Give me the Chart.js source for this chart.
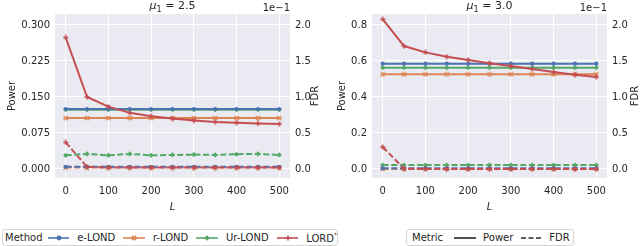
<!DOCTYPE html>
<html>
<head>
<meta charset="utf-8">
<script src="https://cdn.jsdelivr.net/npm/chart.js@4.4.1/dist/chart.umd.min.js"></script>
<style>
body{margin:0;background:#fff;width:640px;height:246px;position:relative;overflow:hidden;font-family:'DejaVu Sans';font-size:10px;color:#262626}
canvas{position:absolute;top:0}
#cA{left:0}
#cB{left:320px}
.lg{position:absolute;top:229px;border:1px solid #d4d4d4;border-radius:3px;background:#fff;display:flex;align-items:center;white-space:nowrap;box-sizing:border-box;height:17px}
.lg svg{display:block}
sup{font-size:6px;vertical-align:5px}
</style>
</head>
<body>
<canvas id="cA" width="320" height="222"></canvas>
<canvas id="cB" width="320" height="222"></canvas>

<div class="lg" style="left:2px;width:336px;padding-left:2px">
  <span>Method</span>
  <svg width="22" height="10" style="margin-left:5px"><line x1="0" y1="5" x2="22" y2="5" stroke="#4C72B0" stroke-width="1.6"/><circle cx="11" cy="5" r="2.4" fill="#4C72B0"/></svg>
  <span style="margin-left:8px">e-LOND</span>
  <svg width="22" height="10" style="margin-left:8px"><line x1="0" y1="5" x2="22" y2="5" stroke="#DD8452" stroke-width="1.6"/><path d="M9 3 L13 7 M13 3 L9 7" stroke="#DD8452" stroke-width="1.8"/></svg>
  <span style="margin-left:8px">r-LOND</span>
  <svg width="22" height="10" style="margin-left:8px"><line x1="0" y1="5" x2="22" y2="5" stroke="#55A868" stroke-width="1.6"/><path d="M11 2.2 L13.8 5 L11 7.8 L8.2 5 Z" fill="#55A868"/></svg>
  <span style="margin-left:8px">Ur-LOND</span>
  <svg width="22" height="10" style="margin-left:8px"><line x1="0" y1="5" x2="22" y2="5" stroke="#C44E52" stroke-width="1.6"/><path d="M11 2.5 L11 7.5 M8.5 5 L13.5 5" stroke="#C44E52" stroke-width="1.6"/></svg>
  <span style="margin-left:8px">LORD<sup>*</sup></span>
</div>

<div class="lg" style="left:406px;width:168px;padding-left:5px">
  <span>Metric</span>
  <svg width="22" height="10" style="margin-left:11px"><line x1="0" y1="5" x2="22" y2="5" stroke="#262626" stroke-width="1.6"/></svg>
  <span style="margin-left:7px">Power</span>
  <svg width="20" height="10" style="margin-left:8px"><line x1="0" y1="5" x2="20" y2="5" stroke="#262626" stroke-width="1.6" stroke-dasharray="5,2.5"/></svg>
  <span style="margin-left:8px">FDR</span>
</div>

<script>
const L = [0, 50, 100, 150, 200, 250, 300, 350, 400, 450, 500];
const methods = ['e-LOND', 'r-LOND', 'Ur-LOND', 'LORD*'];

// mu1 = 2.5 : power
const powA_eLOND  = [0.125, 0.125, 0.125, 0.125, 0.125, 0.125, 0.125, 0.125, 0.125, 0.125, 0.125];
const powA_rLOND  = [0.106, 0.106, 0.106, 0.106, 0.106, 0.106, 0.106, 0.106, 0.106, 0.106, 0.106];
const powA_UrLOND = [0.1235, 0.1235, 0.1235, 0.1235, 0.1235, 0.1235, 0.1235, 0.1235, 0.1235, 0.1235, 0.1235];
const powA_LORD   = [0.274, 0.150, 0.130, 0.117, 0.110, 0.105, 0.101, 0.098, 0.0965, 0.095, 0.094];
// mu1 = 2.5 : FDR (in units of 1e-1, as on the right axis)
const fdrA_eLOND  = [0.03, 0.03, 0.03, 0.03, 0.03, 0.03, 0.03, 0.03, 0.03, 0.03, 0.03];
const fdrA_rLOND  = [0.02, 0.02, 0.02, 0.02, 0.02, 0.02, 0.02, 0.02, 0.02, 0.02, 0.02];
const fdrA_UrLOND = [0.19, 0.21, 0.19, 0.21, 0.19, 0.195, 0.2, 0.195, 0.205, 0.21, 0.195];
const fdrA_LORD   = [0.37, 0.03, 0.02, 0.02, 0.02, 0.02, 0.02, 0.02, 0.02, 0.02, 0.02];

// mu1 = 3.0 : power
const powB_eLOND  = [0.585, 0.585, 0.585, 0.585, 0.585, 0.585, 0.585, 0.585, 0.585, 0.585, 0.585];
const powB_rLOND  = [0.526, 0.526, 0.526, 0.526, 0.526, 0.526, 0.526, 0.526, 0.526, 0.526, 0.526];
const powB_UrLOND = [0.563, 0.563, 0.563, 0.563, 0.563, 0.563, 0.563, 0.563, 0.563, 0.563, 0.563];
const powB_LORD   = [0.832, 0.683, 0.648, 0.624, 0.606, 0.587, 0.572, 0.556, 0.539, 0.524, 0.511];
// mu1 = 3.0 : FDR (1e-1)
const fdrB_eLOND  = [0.01, 0.01, 0.01, 0.01, 0.01, 0.01, 0.01, 0.01, 0.01, 0.01, 0.01];
const fdrB_rLOND  = [0.0, 0.0, 0.0, 0.0, 0.0, 0.0, 0.0, 0.0, 0.0, 0.0, 0.0];
const fdrB_UrLOND = [0.055, 0.055, 0.055, 0.055, 0.055, 0.055, 0.055, 0.055, 0.055, 0.055, 0.055];
const fdrB_LORD   = [0.305, 0.005, 0.0, 0.0, 0.0, 0.0, 0.0, 0.0, 0.0, 0.0, 0.0];

// tick labels
const xTicks = [0, 100, 200, 300, 400, 500];
const powTicksA = [0, 0.075, 0.15, 0.225, 0.3];
const powLabelsA = ['0.000', '0.075', '0.150', '0.225', '0.300'];
const powTicksB = [0, 0.2, 0.4, 0.6, 0.8];
const powLabelsB = ['0.0', '0.2', '0.4', '0.6', '0.8'];
const fdrTicks = [0, 0.5, 1.0, 1.5, 2.0];
const fdrLabels = ['0.0', '0.5', '1.0', '1.5', '2.0'];

const colors = ['#4C72B0', '#DD8452', '#55A868', '#C44E52'];
const FONT = "'DejaVu Sans', sans-serif";
const INK = '#262626';

Chart.defaults.font.family = FONT;
Chart.defaults.font.size = 10;
Chart.defaults.color = INK;

function marker(shape, color) {
    const c = document.createElement('canvas');
    c.width = 6; c.height = 6;
    const g = c.getContext('2d');
    g.strokeStyle = color;
    g.fillStyle = color;
    if (shape === 'x') {
        g.lineWidth = 1.7;
        g.beginPath(); g.moveTo(1, 1); g.lineTo(5, 5); g.moveTo(5, 1); g.lineTo(1, 5); g.stroke();
    } else {
        g.fillRect(2.2, 0.5, 1.6, 5);
        g.fillRect(0.5, 2.2, 5, 1.6);
    }
    return c;
}
const styles = ['circle', marker('x', colors[1]), 'rectRot', marker('p', colors[3])];
const radii = [2.1, 2.5, 2.6, 2.5];

const panelPlugin = {
    id: 'panel',
    beforeDraw(chart) {
        const a = chart.chartArea, ctx = chart.ctx;
        ctx.save();
        ctx.fillStyle = '#EAEAF2';
        ctx.fillRect(a.left, a.top, a.right - a.left, a.bottom - a.top);
        ctx.restore();
    },
    afterDraw(chart) {
        const o = chart.options.plugins.panel;
        const a = chart.chartArea, ctx = chart.ctx;
        const cx = (a.left + a.right) / 2, cy = (a.top + a.bottom) / 2;
        ctx.save();
        ctx.fillStyle = INK;
        ctx.textBaseline = 'alphabetic';

        // title: mu_1 = value
        const f1 = 'italic 11px ' + FONT, f2 = '8px ' + FONT, f3 = '11px ' + FONT;
        const rest = ' = ' + o.mu;
        ctx.font = f1; const w1 = ctx.measureText('μ').width;
        ctx.font = f2; const w2 = ctx.measureText('1').width;
        ctx.font = f3; const w3 = ctx.measureText(rest).width;
        let x = cx - (w1 + w2 + w3) / 2;
        ctx.textAlign = 'left';
        ctx.font = f1; ctx.fillText('μ', x, 9); x += w1;
        ctx.font = f2; ctx.fillText('1', x, 12); x += w2;
        ctx.font = f3; ctx.fillText(rest, x, 9);

        // offset text
        ctx.font = '10px ' + FONT;
        ctx.textAlign = 'right';
        ctx.fillText('1e\u22121', a.right, 11);

        // x title
        ctx.textAlign = 'center';
        ctx.textBaseline = 'middle';
        ctx.font = 'italic 10px ' + FONT;
        ctx.fillText('L', cx, 207);

        // y titles
        ctx.font = '10px ' + FONT;
        ctx.translate(o.powerX, cy);
        ctx.rotate(-Math.PI / 2);
        ctx.fillText('Power', 0, 0);
        ctx.restore();
        ctx.save();
        ctx.fillStyle = INK;
        ctx.font = '10px ' + FONT;
        ctx.textAlign = 'center';
        ctx.textBaseline = 'middle';
        ctx.translate(o.fdrX, cy);
        ctx.rotate(-Math.PI / 2);
        ctx.fillText('FDR', 0, 0);
        ctx.restore();
    }
};

function makePanel(id, p) {
    const ds = [];
    const order = [3, 0, 2, 1];
    order.forEach(i => ds.push({
        label: methods[i] + ' Power', data: p.pow[i], yAxisID: 'y',
        borderColor: colors[i], backgroundColor: colors[i], borderWidth: 2,
        pointStyle: styles[i], pointRadius: radii[i], pointBorderWidth: 0
    }));
    order.forEach(i => ds.push({
        label: methods[i] + ' FDR', data: p.fdr[i], yAxisID: 'y1',
        borderColor: colors[i], backgroundColor: colors[i], borderWidth: 2, borderDash: [6, 2.6],
        pointStyle: styles[i], pointRadius: radii[i], pointBorderWidth: 0
    }));

    return new Chart(document.getElementById(id), {
        type: 'line',
        data: { labels: L, datasets: ds },
        options: {
            responsive: false,
            animation: false,
            layout: { padding: { top: 14, left: 0, right: 0, bottom: 0 } },
            plugins: {
                legend: { display: false },
                tooltip: { enabled: false },
                panel: { mu: p.mu, powerX: p.powerX, fdrX: 315 }
            },
            scales: {
                x: {
                    type: 'linear', min: -25, max: 525,
                    afterBuildTicks: s => { s.ticks = xTicks.map(v => ({ value: v })); },
                    afterFit: s => { s.height = 44; },
                    ticks: { padding: 7, color: INK, maxRotation: 0 },
                    grid: { color: '#ffffff', lineWidth: 1, drawTicks: false },
                    border: { display: false }
                },
                y: {
                    position: 'left', min: p.yMin, max: p.yMax,
                    afterBuildTicks: s => { s.ticks = p.powTicks.map(v => ({ value: v })); },
                    afterFit: s => { s.width = p.leftW; },
                    ticks: { padding: 5, color: INK, callback: (v) => p.powLabels[p.powTicks.indexOf(v)] },
                    grid: { color: '#ffffff', lineWidth: 1, drawTicks: false },
                    border: { display: false }
                },
                y1: {
                    position: 'right', min: -0.125, max: 2.1528,
                    afterBuildTicks: s => { s.ticks = fdrTicks.map(v => ({ value: v })); },
                    afterFit: s => { s.width = p.rightW; },
                    ticks: { padding: 5, color: INK, callback: (v) => fdrLabels[fdrTicks.indexOf(v)] },
                    grid: { display: false, drawTicks: false },
                    border: { display: false }
                }
            }
        },
        plugins: [panelPlugin]
    });
}

makePanel('cA', {
    mu: '2.5', powerX: 12, leftW: 55, rightW: 30,
    yMin: -0.01875, yMax: 0.3229, powTicks: powTicksA, powLabels: powLabelsA,
    pow: [powA_eLOND, powA_rLOND, powA_UrLOND, powA_LORD],
    fdr: [fdrA_eLOND, fdrA_rLOND, fdrA_UrLOND, fdrA_LORD]
});

makePanel('cB', {
    mu: '3.0', powerX: 22, leftW: 52, rightW: 33,
    yMin: -0.05, yMax: 0.8611, powTicks: powTicksB, powLabels: powLabelsB,
    pow: [powB_eLOND, powB_rLOND, powB_UrLOND, powB_LORD],
    fdr: [fdrB_eLOND, fdrB_rLOND, fdrB_UrLOND, fdrB_LORD]
});
</script>
</body>
</html>
